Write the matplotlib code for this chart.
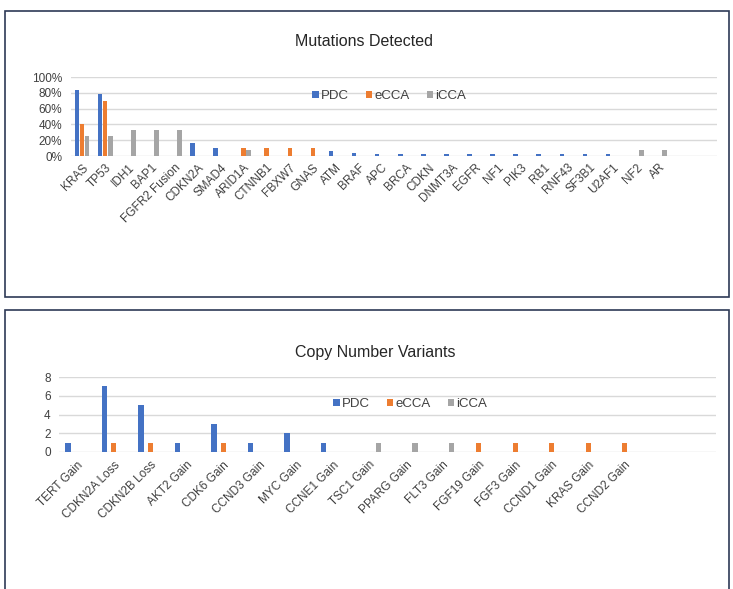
import matplotlib

matplotlib.use("Agg")
import matplotlib.pyplot as plt
import numpy as np
from matplotlib.patches import Rectangle

plt.rcParams["font.family"] = ["Liberation Sans", "DejaVu Sans"]

# Mutations detected (fraction of cases)
mut_genes = ["KRAS", "TP53", "IDH1", "BAP1", "FGFR2 Fusion", "CDKN2A", "SMAD4",
             "ARID1A", "CTNNB1", "FBXW7", "GNAS", "ATM", "BRAF", "APC", "BRCA",
             "CDKN", "DNMT3A", "EGFR", "NF1", "PIK3", "RB1", "RNF43", "SF3B1",
             "U2AF1", "NF2", "AR"]
mut_pdc = [0.84, 0.79, 0, 0, 0, 0.17, 0.10, 0, 0, 0, 0, 0.06, 0.04, 0.02, 0.02,
           0.02, 0.02, 0.02, 0.02, 0.02, 0.02, 0.02, 0.02, 0.02, 0, 0]
mut_ecca = [0.40, 0.70, 0, 0, 0, 0, 0, 0.10, 0.10, 0.10, 0.10, 0, 0, 0, 0,
            0, 0, 0, 0, 0, 0, 0, 0, 0, 0, 0]
mut_icca = [0.25, 0.25, 0.33, 0.33, 0.33, 0, 0, 0.08, 0, 0, 0, 0, 0, 0, 0,
            0, 0, 0, 0, 0, 0, 0, 0, 0, 0.08, 0.08]

# Copy number variants (counts)
cnv_labels = ["TERT Gain", "CDKN2A Loss", "CDKN2B Loss", "AKT2 Gain", "CDK6 Gain",
              "CCND3 Gain", "MYC Gain", "CCNE1 Gain", "TSC1 Gain", "PPARG Gain",
              "FLT3 Gain", "FGF19 Gain", "FGF3 Gain", "CCND1 Gain", "KRAS Gain",
              "CCND2 Gain"]
cnv_pdc = [1, 7, 5, 1, 3, 1, 2, 1, 0, 0, 0, 0, 0, 0, 0, 0]
cnv_ecca = [0, 1, 1, 0, 1, 0, 0, 0, 0, 0, 0, 1, 1, 1, 1, 1]
cnv_icca = [0, 0, 0, 0, 0, 0, 0, 0, 1, 1, 1, 0, 0, 0, 0, 0]

COLORS = {"PDC": "#4472C4", "eCCA": "#ED7D31", "iCCA": "#A5A5A5"}
W, H = 733, 589


def px_axes(fig, x0, y0, x1, y1):
    # pixel box (top-left origin) -> figure axes
    return fig.add_axes([x0 / W, 1 - y1 / H, (x1 - x0) / W, (y1 - y0) / H])


def draw_panel(ax, labels, series, width, offset, ylim, yticks, yfmt, n_slots,
               title, title_xy, legend_xy, xpad):
    x = np.arange(len(labels))
    handles = []
    for k, (name, vals) in enumerate(series):
        b = ax.bar(x + (k - 1) * offset, vals, width=width, color=COLORS[name],
                   label=name, zorder=3)
        handles.append(b)
    ax.set_xlim(-0.5, n_slots - 0.5)
    ax.set_ylim(*ylim)
    ax.set_yticks(yticks)
    ax.set_yticklabels([yfmt(v) for v in yticks], fontsize=8.5, color="#404040")
    ax.set_xticks(x)
    ax.set_xticklabels(labels, rotation=45, ha="right", rotation_mode="anchor",
                       fontsize=8.5, color="#404040")
    ax.tick_params(axis="x", length=0, pad=xpad)
    ax.tick_params(axis="y", length=0, pad=6)
    ax.grid(axis="y", color="#D9D9D9", linewidth=1.0, zorder=0)
    for s in ax.spines.values():
        s.set_visible(False)
    ax.set_facecolor("none")
    fig = ax.figure
    fig.text(title_xy[0] / W, 1 - title_xy[1] / H, title, ha="center", va="center",
             fontsize=11.5, color="#262626")
    fig.legend(handles=handles, loc="center", ncol=3, frameon=False, fontsize=9.5,
               bbox_to_anchor=(legend_xy[0] / W, 1 - legend_xy[1] / H),
               handlelength=0.5, handleheight=0.5, handletextpad=0.15,
               columnspacing=1.3, labelcolor="#404040")


fig = plt.figure(figsize=(W / 100, H / 100), dpi=100)

# panel borders
for (x0, y0, x1, y1) in [(5, 11, 729, 297), (5, 310, 729, 600)]:
    fig.patches.append(Rectangle((x0 / W, 1 - y1 / H), (x1 - x0) / W, (y1 - y0) / H,
                                 transform=fig.transFigure, fill=False,
                                 edgecolor="#2E3A56", linewidth=1.2))

ax1 = px_axes(fig, 70.5, 77, 717, 156)
draw_panel(ax1, mut_genes,
           [("PDC", mut_pdc), ("eCCA", mut_ecca), ("iCCA", mut_icca)],
           width=0.2, offset=0.22, ylim=(0, 1.0),
           yticks=[0, 0.2, 0.4, 0.6, 0.8, 1.0],
           yfmt=lambda v: f"{v:.0%}", n_slots=28,
           title="Mutations Detected", title_xy=(364, 41), legend_xy=(389, 96),
           xpad=4)

ax2 = px_axes(fig, 59, 377, 716, 452)
draw_panel(ax2, cnv_labels,
           [("PDC", cnv_pdc), ("eCCA", cnv_ecca), ("iCCA", cnv_icca)],
           width=0.15, offset=0.25, ylim=(0, 8), yticks=[0, 2, 4, 6, 8],
           yfmt=lambda v: f"{v:d}", n_slots=18,
           title="Copy Number Variants", title_xy=(375, 352), legend_xy=(410, 404),
           xpad=5)

fig.savefig("out.png", dpi=100)
plt.close(fig)
